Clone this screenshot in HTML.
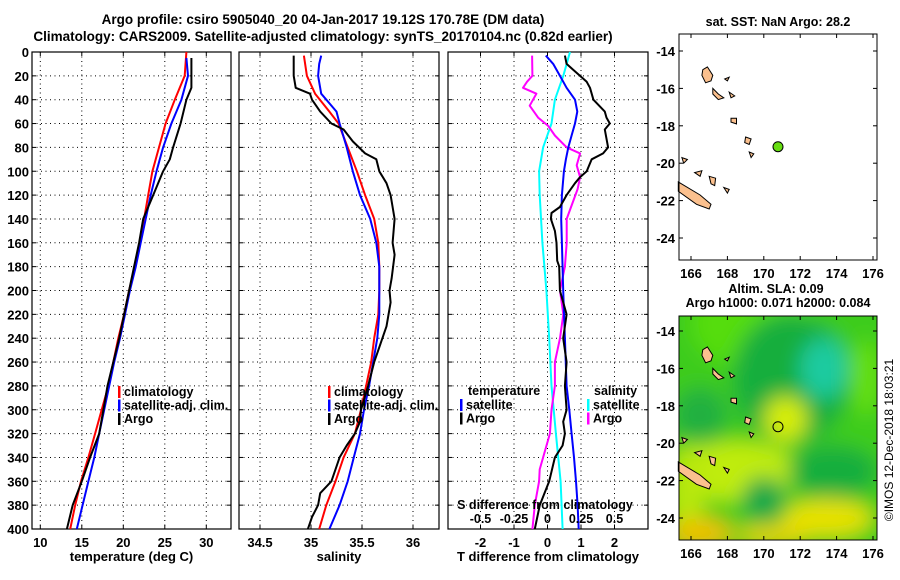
<!DOCTYPE html>
<html><head><meta charset="utf-8"><style>
body{margin:0;background:#fff;}
svg{display:block;font-family:"Liberation Sans",sans-serif;font-weight:bold;}
</style></head><body>
<svg id="s" width="900" height="580" viewBox="0 0 900 580">
<defs>
<filter id="bl" filterUnits="userSpaceOnUse" x="600" y="250" width="350" height="350"><feGaussianBlur stdDeviation="10"/></filter>
<clipPath id="mapclip"><rect x="679" y="316" width="198" height="224"/></clipPath>
</defs>
<text x="323" y="24" font-size="13.5" text-anchor="middle">Argo profile: csiro 5905040_20 04-Jan-2017 19.12S 170.78E (DM data)</text>
<text x="323" y="41" font-size="13.5" text-anchor="middle">Climatology: CARS2009. Satellite-adjusted climatology: synTS_20170104.nc (0.82d earlier)</text>
<g id="g"></g>
</svg>
<script>
// ---------- data ----------
const tDepth = [0,20,40,60,80,100,120,140,160,180,200,220,240,260,280,300,320,340,360,380,400];
const tClim = [27.6,27.4,26.2,25.1,24.3,23.5,23.0,22.5,22.0,21.4,20.7,20.1,19.4,18.8,18.2,17.4,16.6,15.8,14.9,14.2,13.6];
const tSatDepth = [5,20,40,60,80,100,120,140,160,180,200,220,240,260,280,300,320,340,360,380,400];
const tSat = [27.6,27.8,27.0,25.8,24.8,24.0,23.3,22.7,22.1,21.5,20.8,20.2,19.6,18.9,18.3,17.7,17.1,16.5,15.8,15.1,14.4];
const tArgoDepth = [5,30,40,60,80,90,100,120,140,160,180,200,220,240,260,280,300,320,340,360,380,400];
const tArgo = [28.2,28.2,27.6,26.9,26.0,25.6,24.8,23.6,22.4,21.9,21.3,20.7,20.1,19.5,18.8,18.1,17.6,17.1,16.0,15.0,13.9,13.2];

const sClimDepth = [3,20,35,50,60,80,100,120,140,160,180,200,220,240,260,280,300,320,340,360,380,400];
const sClim = [34.93,34.96,35.04,35.18,35.27,35.36,35.45,35.53,35.62,35.66,35.67,35.67,35.66,35.62,35.59,35.54,35.49,35.43,35.32,35.24,35.15,35.08];
const sSatDepth = [3,10,20,35,50,60,80,100,120,140,160,180,200,220,240,260,280,300,320,340,360,380,400];
const sSat = [35.10,35.08,35.07,35.10,35.25,35.28,35.35,35.41,35.48,35.58,35.64,35.67,35.67,35.67,35.65,35.61,35.57,35.52,35.48,35.42,35.36,35.28,35.18];
const sArgoDepth = [3,20,30,35,40,50,60,65,75,85,90,100,110,120,130,140,160,170,190,200,210,230,240,260,280,300,310,320,330,340,360,370,380,390,400];
const sArgo = [34.83,34.83,34.85,34.99,35.01,35.09,35.20,35.32,35.41,35.53,35.64,35.67,35.74,35.78,35.80,35.82,35.80,35.82,35.79,35.77,35.78,35.74,35.70,35.62,35.56,35.49,35.48,35.43,35.35,35.28,35.20,35.09,35.07,35.01,34.97];

const dSatTDepth = [3,10,20,30,40,50,60,70,80,90,100,120,140,160,200,240,280,300,320,340,360,380,400];
const dSatT = [-0.05,0.17,0.37,0.57,0.82,0.89,0.82,0.72,0.62,0.55,0.49,0.43,0.41,0.43,0.47,0.52,0.57,0.65,0.72,0.79,0.85,0.90,0.93];
const dArgoTDepth = [3,10,15,25,30,40,50,55,60,65,80,85,90,100,105,110,120,130,135,140,150,160,175,180,200,220,240,260,280,300,310,320,330,340,360,380,400];
const dArgoT = [0.52,0.57,0.77,1.17,1.27,1.37,1.71,1.76,1.86,1.71,1.81,1.66,1.32,1.17,0.97,0.82,0.57,0.37,0.12,0.10,0.22,0.27,0.29,0.35,0.37,0.57,0.47,0.57,0.52,0.57,0.47,0.52,0.45,0.22,0.05,-0.23,-0.38];
const dSatSDepth = [0,20,40,60,80,100,120,160,200,240,280,320,360,400];
const dSatS = [0.168,0.118,0.055,0.030,-0.033,-0.063,-0.058,-0.038,-0.008,0.013,0.030,0.063,0.098,0.113];
const dArgoSDepth = [3,20,25,30,35,45,55,62,70,80,85,95,105,115,140,160,180,200,220,240,260,280,300,320,335,350,360,380,400];
const dArgoS = [-0.115,-0.113,-0.153,-0.183,-0.083,-0.133,-0.070,0.005,0.055,0.143,0.243,0.218,0.243,0.225,0.143,0.143,0.130,0.093,0.118,0.093,0.055,0.055,0.030,0.018,-0.020,-0.058,-0.063,-0.095,-0.113];

const depthTicks = [0,20,40,60,80,100,120,140,160,180,200,220,240,260,280,300,320,340,360,380,400];
const tTicks = [10,15,20,25,30];
const sTicks = [34.5,35,35.5,36];
const dTTicks = [-2,-1,0,1,2];
const dSTicks = [-0.5,-0.25,0,0.25,0.5];
const lonTicks = [166,168,170,172,174,176];
const latTicks = [-14,-16,-18,-20,-22,-24];
const argoLon = 170.78, argoLat = -19.12;

// ---------- helpers ----------
const NS='http://www.w3.org/2000/svg';
const G=document.getElementById('g');
function mk(tag,attrs,parent,name,txt){const e=document.createElementNS(NS,tag);for(const k in attrs)e.setAttribute(k,attrs[k]);if(txt!==undefined)e.textContent=txt;


(parent||G).appendChild(e);return e;}
const Y0=52,Y1=529;
const yD=d=>Y0+(Y1-Y0)*d/400;
function panel(x0,x1,xs,ticks,fmt,label,name,showDepth){
  const g=mk('g',{},G,name+'-panel');
  depthTicks.forEach(d=>{if(d>0&&d<400)mk('line',{x1:x0,x2:x1,y1:yD(d),y2:yD(d),stroke:'#000','stroke-dasharray':'1,3.5','stroke-width':1},g,'h-gridline');
    mk('line',{x1:x0,x2:x0+4,y1:yD(d),y2:yD(d),stroke:'#000'},g,'y-tick');
    mk('line',{x1:x1-4,x2:x1,y1:yD(d),y2:yD(d),stroke:'#000'},g,'y-tick');
    if(showDepth)mk('text',{x:x0-3,y:yD(d)+5,'font-size':13,'text-anchor':'end'},g,'depth-tick-label',String(d));});
  ticks.forEach(t=>{const x=xs(t);mk('line',{x1:x,x2:x,y1:Y0,y2:Y1,stroke:'#000','stroke-dasharray':'1,3.5'},g,'v-gridline');
    mk('line',{x1:x,x2:x,y1:Y1-4,y2:Y1,stroke:'#000'},g,'x-tick');
    mk('line',{x1:x,x2:x,y1:Y0,y2:Y0+4,stroke:'#000'},g,'x-tick');
    mk('text',{x:x,y:Y1+18,'font-size':13,'text-anchor':'middle'},g,'x-tick-label',fmt(t));});
  mk('rect',{x:x0,y:Y0,width:x1-x0,height:Y1-Y0,fill:'none',stroke:'#000','stroke-width':1.2},g,name+'-frame');
  mk('text',{x:(x0+x1)/2,y:Y1+46-14,'font-size':13,'text-anchor':'middle'},g,name+'-x-axis-title',label);
  return g;
}
function line(g,depths,vals,xs,color,w,name){
  const pts=depths.map((d,i)=>xs(vals[i]).toFixed(1)+','+yD(d).toFixed(1)).join(' ');
  mk('polyline',{points:pts,fill:'none',stroke:color,'stroke-width':w,'stroke-linejoin':'round'},g,name);
}
function legend(g,x,y,items){items.forEach((it,i)=>{const yy=y+i*13.5;
  mk('rect',{x:x,y:yy-10,width:2.5,height:12,fill:it[1]},g,'legend-marker');
  mk('text',{x:x+6,y:yy,'font-size':12.5},g,'legend-entry',it[0]);});}

// Panel 1 temperature
const xT=t=>40.3+(t-10)*8.3;
const p1=panel(32,231,xT,tTicks,String,'temperature (deg C)','temperature',true);
line(p1,tDepth,tClim,xT,'#f00',2,'climatology-temp-line');
line(p1,tSatDepth,tSat,xT,'#00f',2,'satellite-temp-line');
line(p1,tArgoDepth,tArgo,xT,'#000',2,'argo-temp-line');
legend(p1,118,396,[['climatology','#f00'],['satellite-adj. clim.','#00f'],['Argo','#000']]);

// Panel 2 salinity
const xS=s=>260+(s-34.5)*102;
const p2=panel(239,439,xS,sTicks,String,'salinity','salinity',false);
line(p2,sClimDepth,sClim,xS,'#f00',2,'climatology-sal-line');
line(p2,sSatDepth,sSat,xS,'#00f',2,'satellite-sal-line');
line(p2,sArgoDepth,sArgo,xS,'#000',2,'argo-sal-line');
legend(p2,328,396,[['climatology','#f00'],['satellite-adj. clim.','#00f'],['Argo','#000']]);

// Panel 3 differences
const xDT=t=>547.5+t*33.5;
const xDS=s=>xDT(s*4);
const p3=panel(448,648,xDT,dTTicks,String,'T difference from climatology','difference',false);
line(p3,dSatSDepth,dSatS,xDS,'#0ff',2,'satellite-sal-diff-line');
line(p3,dArgoSDepth,dArgoS,xDS,'#f0f',2,'argo-sal-diff-line');
line(p3,dSatTDepth,dSatT,xDT,'#00f',2,'satellite-temp-diff-line');
line(p3,dArgoTDepth,dArgoT,xDT,'#000',2,'argo-temp-diff-line');
mk('text',{x:468,y:395,'font-size':12.5},p3,'legend-title-temperature','temperature');
legend(p3,460,409,[['satellite','#00f'],['Argo','#000']]);
mk('text',{x:594,y:395,'font-size':12.5},p3,'legend-title-salinity','salinity');
legend(p3,587,409,[['satellite','#0ff'],['Argo','#f0f']]);
mk('text',{x:545,y:509,'font-size':12.5,'text-anchor':'middle'},p3,'s-axis-title','S difference from climatology');
dSTicks.forEach(s=>mk('text',{x:xDS(s),y:523,'font-size':12.5,'text-anchor':'middle'},p3,'s-tick-label',String(s)));

// ---------- maps ----------
const islands=[
 [[166.65,-15.0],[166.9,-14.85],[167.2,-15.3],[167.1,-15.6],[166.8,-15.7],[166.6,-15.3]],
 [[167.2,-16.0],[167.5,-16.3],[167.8,-16.5],[167.5,-16.6],[167.2,-16.3]],
 [[167.85,-15.5],[168.1,-15.4],[168.0,-15.6]],
 [[168.1,-16.2],[168.4,-16.4],[168.2,-16.5]],
 [[168.2,-17.6],[168.5,-17.6],[168.5,-17.9],[168.2,-17.8]],
 [[169.0,-18.6],[169.3,-18.7],[169.2,-19.0],[168.95,-18.9]],
 [[169.2,-19.4],[169.45,-19.5],[169.3,-19.7]],
 [[165.3,-21.0],[166.5,-21.7],[167.1,-22.2],[167.0,-22.45],[166.3,-22.2],[165.3,-21.5]],
 [[167.0,-20.7],[167.35,-20.8],[167.3,-21.2],[167.1,-21.1]],
 [[167.8,-21.3],[168.1,-21.4],[168.0,-21.6]],
 [[165.5,-19.7],[165.8,-19.8],[165.6,-20.0]],
 [[166.2,-20.5],[166.6,-20.4],[166.5,-20.7]]
];
function map(x0,y0,x1,y1,lat0,top,name,colored){
  const lx=lo=>691+(lo-166)*18.2, ly=la=>top+(-14-la)*18.7;
  const g=mk('g',{},G,name);
  if(colored){
    const c=mk('g',{'clip-path':'url(#mapclip)'},g,'sla-heatmap');
    const f=mk('g',{filter:'url(#bl)'},c,'sla-field');
    mk('rect',{x:x0-30,y:y0-30,width:x1-x0+60,height:y1-y0+60,fill:'#3ccc1c'},f,'sla-background');
    const blobs=[[169.5,-13.6,3.5,2.5,'#55dd11'],[171.5,-16.5,3.2,3.5,'#18ae3c'],[173.3,-16.0,1.3,1.6,'#1ccba0'],[166.5,-18.5,1.5,1.5,'#20b040'],
      [171.2,-18.7,1.2,1.2,'#d8ee00'],[168.5,-21.5,3.5,1.6,'#c0ec08'],[165.8,-22.5,1,2.5,'#b8e810'],[173.8,-21.5,2.5,1.4,'#16ae3c'],[170,-23,1.2,1.2,'#17a84a'],
      [173.5,-24,2.5,1,'#e8e200'],[166.5,-24.8,1.8,0.8,'#f0c000'],[170.5,-24.9,2,0.5,'#f0d400'],[175.6,-16.5,0.8,2,'#66e010']];
    blobs.forEach(b=>mk('ellipse',{cx:lx(b[0]),cy:ly(b[1]),rx:b[2]*18.2,ry:b[3]*18.7,fill:b[4]},f,'sla-blob'));
  }
  islands.forEach(p=>mk('polygon',{points:p.map(q=>lx(q[0]).toFixed(1)+','+ly(q[1]).toFixed(1)).join(' '),fill:'#fbc08e',stroke:'#000','stroke-width':1},g,'island'));
  mk('circle',{cx:lx(argoLon),cy:ly(argoLat),r:5,fill:colored?'none':'#66dd11',stroke:'#000','stroke-width':1},g,'argo-location-marker');
  mk('rect',{x:x0,y:y0,width:x1-x0,height:y1-y0,fill:'none',stroke:'#000','stroke-width':1},g,name+'-frame');
  lonTicks.forEach(lo=>{const x=lx(lo);mk('line',{x1:x,x2:x,y1:y0,y2:y0+4,stroke:'#000'},g,'lon-tick');mk('line',{x1:x,x2:x,y1:y1-4,y2:y1,stroke:'#000'},g,'lon-tick');
    mk('text',{x:x,y:y1+18,'font-size':13,'text-anchor':'middle'},g,'lon-tick-label',String(lo));});
  latTicks.forEach(la=>{const y=ly(la);mk('line',{x1:x0,x2:x0+4,y1:y,y2:y,stroke:'#000'},g,'lat-tick');mk('line',{x1:x1-4,x2:x1,y1:y,y2:y,stroke:'#000'},g,'lat-tick');
    mk('text',{x:x0-4,y:y+5,'font-size':13,'text-anchor':'end'},g,'lat-tick-label',String(la));});
}
map(679,34,877,260,-14,51,'sst-map',false);
mk('text',{x:778,y:26,'font-size':12.5,'text-anchor':'middle'},G,'sst-map-title','sat. SST: NaN Argo: 28.2');
map(679,316,877,540,-14,331,'sla-map',true);
mk('text',{x:776,y:293,'font-size':12.5,'text-anchor':'middle'},G,'sla-map-title','Altim. SLA: 0.09');
mk('text',{x:778,y:307,'font-size':12.5,'text-anchor':'middle'},G,'sla-map-subtitle','Argo h1000: 0.071 h2000: 0.084');
mk('text',{x:893,y:440,'font-size':12,'font-weight':'normal','text-anchor':'middle',transform:'rotate(-90 893 440)'},G,'imos-credit','©IMOS 12-Dec-2018 18:03:21');
</script>
</body></html>
